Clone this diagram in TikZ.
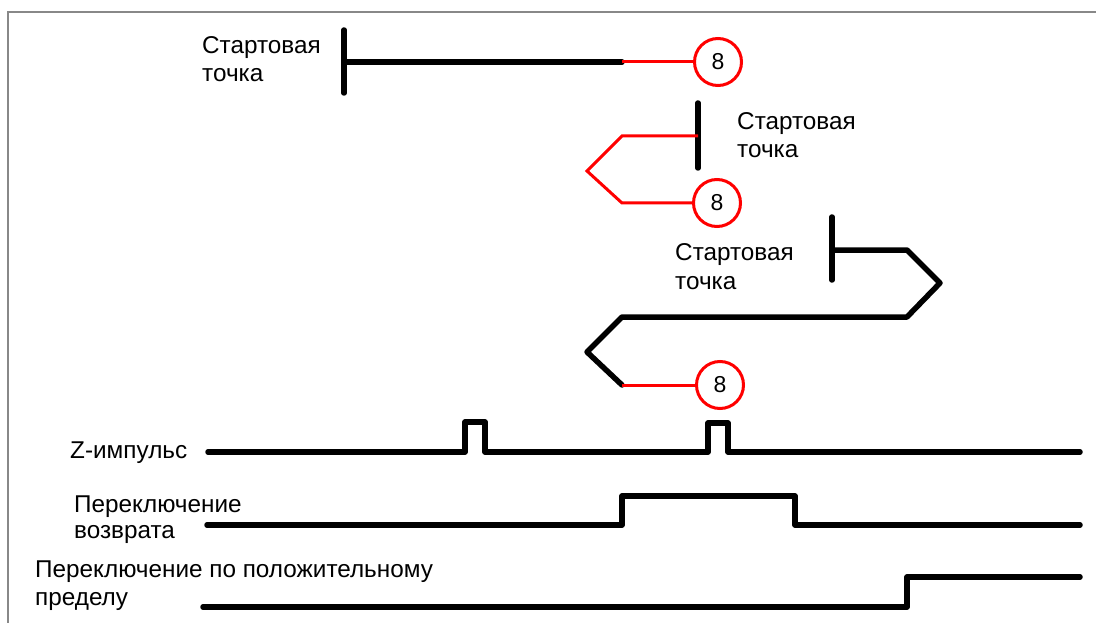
\documentclass[tikz,border=0pt]{standalone}
\usepackage{fontspec}
\setmainfont{Liberation Sans}
\usepackage{tikz}
\usetikzlibrary{positioning}
\definecolor{frm}{HTML}{888888}
\definecolor{hred}{HTML}{FF0000}
\tikzset{
  lbl/.style={font=\fontsize{24.3}{28.5}\selectfont, align=left, anchor=base west, inner sep=0pt},
  mov/.style={line width=5.5pt, line cap=round, line join=round, black},
  sig/.style={line width=5.5pt, line cap=round, line join=round, black},
  srch/.style={line width=3pt, color=hred},
  pt/.style={circle, draw=hred, line width=3pt, minimum size=47pt, inner sep=0pt, fill=white, font=\fontsize{23}{24}\selectfont},
}
\begin{document}
\begin{tikzpicture}[x=1pt, y=-1pt]
  \useasboundingbox (0,0) rectangle (1096,623);
  \clip (0,0) rectangle (1096,623);
  \fill[white] (0,0) rectangle (1096,623);
  \draw[frm, line width=2pt] (8,640) -- (8,12) -- (1110,12);

  % homing paths
  \node[pt] (z1) at (718,62) {8};
  \node[pt] (z2) at (717,203) {8};
  \node[pt] (z3) at (720,385) {8};

  \node[lbl] (s1) at (202,82) {Стартовая\\точка};
  \draw[mov] (344,30) -- (344,93);
  \draw[mov] (344,62) -- (622,62);
  \draw[srch] (622,62) -- (z1.west);

  \node[lbl] (s2) at (737,158) {Стартовая\\точка};
  \draw[mov] (698,103) -- (698,168);
  \draw[srch] (698,136) -- (622,136) -- (587,171) -- (622,203) -- (z2.west);

  \node[lbl] (s3) at (675,289) {Стартовая\\точка};
  \draw[mov] (832,217) -- (832,280);
  \draw[mov] (832,250) -- (907,250) -- (940,283) -- (907,317) -- (622,317) -- (587,352) -- (622,385);
  \draw[srch] (622,385) -- (z3.west);

  % signals
  \node[lbl] (zp) at (70,458) {Z-импульс};
  \draw[sig] (208,452) -- (465,452) -- (465,422) -- (485,422) -- (485,452)
    -- (708,452) -- (708,423) -- (728,423) -- (728,452) -- (1080,452);

  \node[lbl, font=\fontsize{24.3}{26}\selectfont] (ret) at (74,538) {Переключение\\возврата};
  \draw[sig] (207,525) -- (622,525) -- (622,496) -- (795,496) -- (795,525) -- (1080,525);

  \node[lbl, font=\fontsize{24.3}{28}\selectfont] (lim) at (35,605) {Переключение по положительному\\пределу};
  \draw[sig] (203,607) -- (907,607) -- (907,577) -- (1080,577);
\end{tikzpicture}
\end{document}
